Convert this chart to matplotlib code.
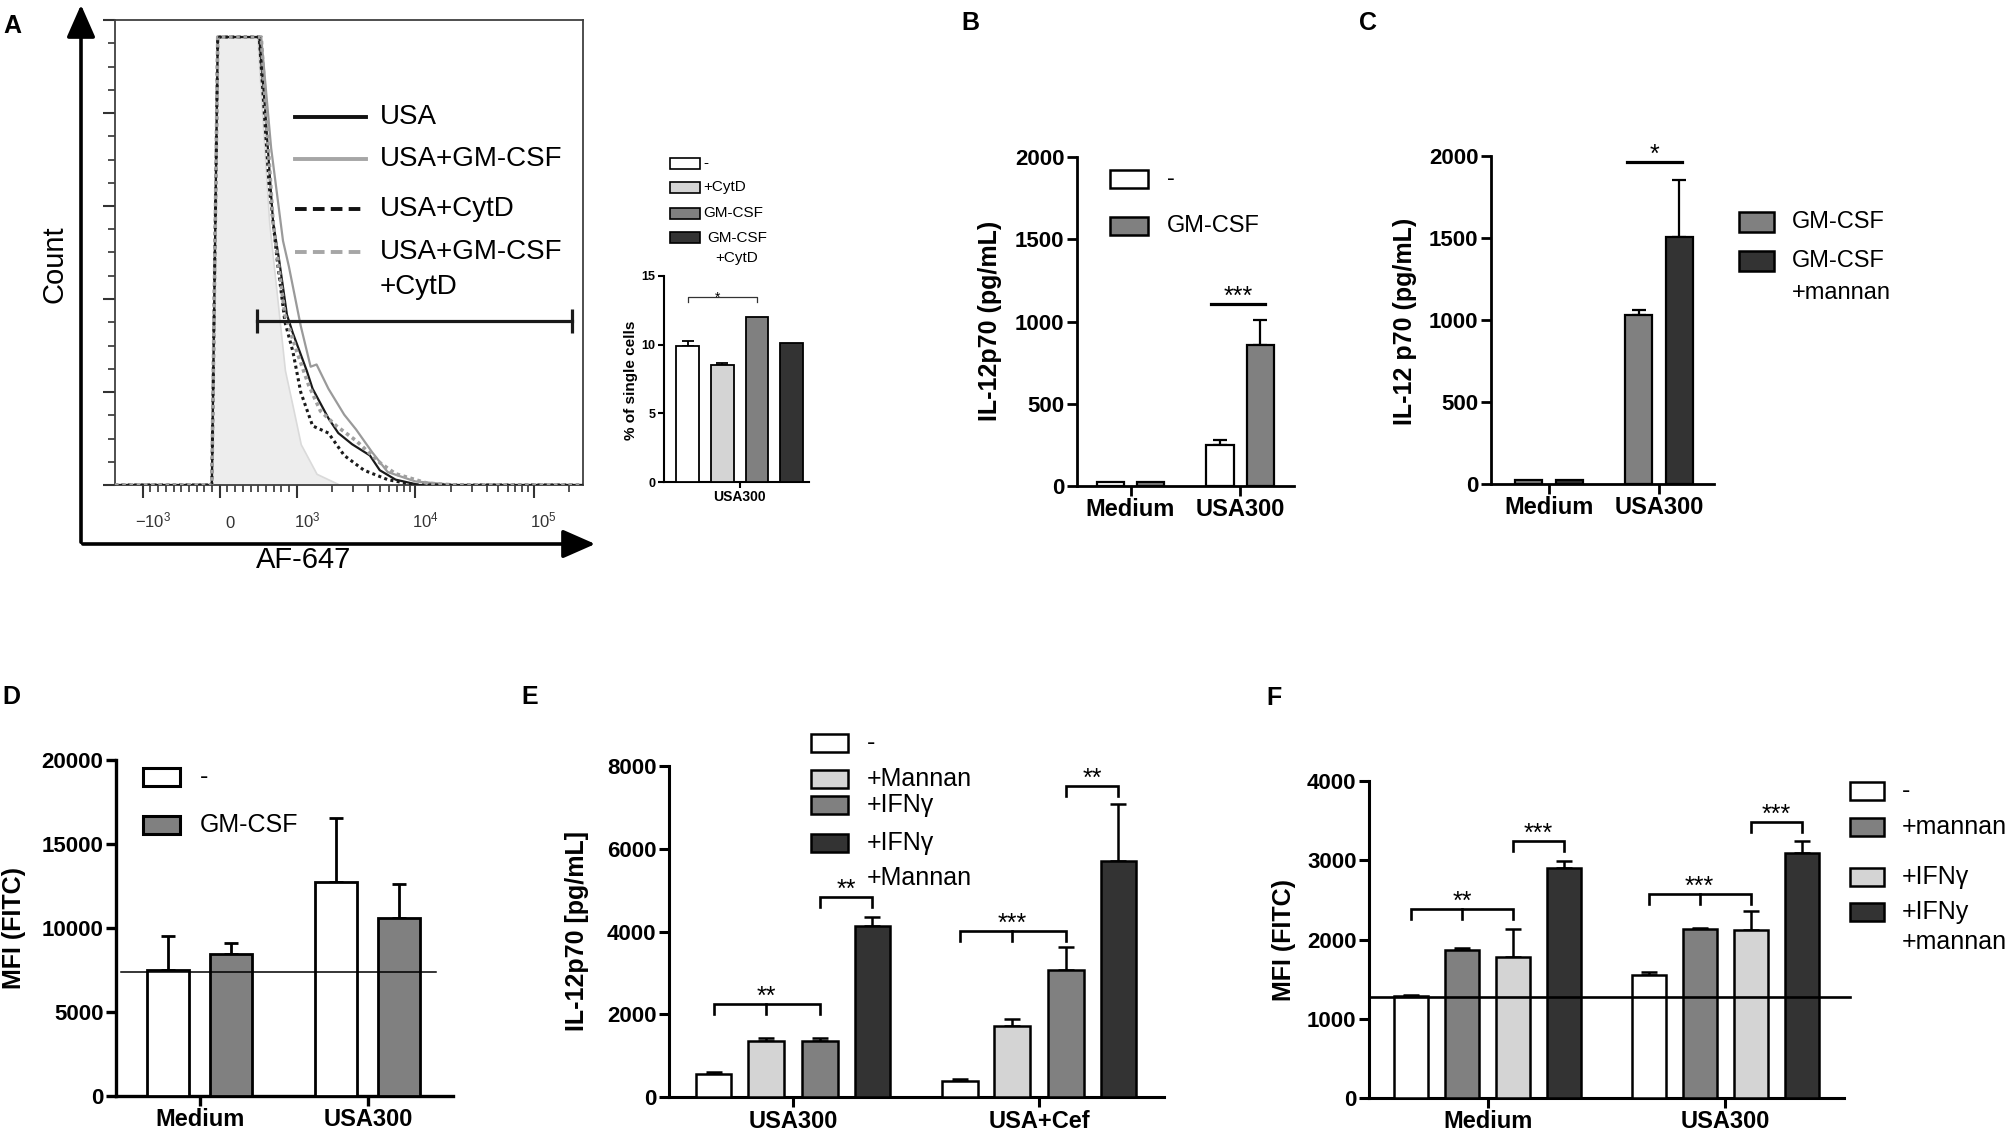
import numpy as np
import matplotlib
matplotlib.use('Agg')
import matplotlib.pyplot as plt
from matplotlib.patches import Rectangle, FancyArrowPatch
from matplotlib.lines import Line2D
from matplotlib.ticker import FixedLocator, MultipleLocator, AutoMinorLocator, NullFormatter
import matplotlib.transforms as mtrans

plt.rcParams['font.family'] = ['Liberation Sans', 'DejaVu Sans']
plt.rcParams['mathtext.default'] = 'regular'

# ======================= DATA =======================
# Panel A - histogram (AF-647 vs normalised count)
hist_ticks = [-1e3, 0, 1e3, 1e4, 1e5]
hist_ticklabels = ['$-10^{3}$', '0', '$10^{3}$', '$10^{4}$', '$10^{5}$']
ctrl_x = [-1714, -103, -26, 487, 641, 744, 846, 949, 1080, 1468, 2326, 260000]
ctrl_y = [0, 0, 100, 100, 58.7, 42.1, 25.6, 17.4, 9.1, 2.5, 0, 0]
usa_x = [-1714, -103, -26, 513, 590, 692, 769, 872, 949, 1210, 1359, 1848, 2239, 2929, 4137, 5012, 6813, 10800, 260000]
usa_y = [0, 0, 100, 100, 83.5, 58.7, 50.4, 38.0, 33.9, 25.6, 21.5, 14.9, 11.6, 9.1, 6.6, 3.3, 1.2, 0, 0]
usa_gm_x = [-1714, -103, -26, 538, 667, 821, 897, 1080, 1308, 1468, 1848, 2512, 3162, 4299, 5843, 10000, 21544, 260000]
usa_gm_y = [0, 0, 100, 100, 75.2, 54.5, 48.8, 35.5, 26.4, 26.9, 21.5, 15.7, 12.4, 7.4, 2.9, 0.8, 0, 0]
usa_cytd_x = [-1714, -103, -26, 513, 641, 744, 846, 949, 1080, 1359, 1848, 2512, 3687, 5843, 10000, 260000]
usa_cytd_y = [0, 0, 100, 100, 66.9, 50.4, 36.4, 29.8, 20.7, 13.2, 11.6, 6.6, 3.3, 1.2, 0, 0]
usa_gm_cytd_x = [-1714, -103, -26, 538, 692, 846, 1000, 1259, 1585, 2154, 3162, 5012, 6813, 12589, 21544, 260000]
usa_gm_cytd_y = [0, 0, 100, 100, 58.7, 38.0, 29.8, 22.3, 16.5, 13.2, 9.9, 5.0, 2.5, 0.4, 0, 0]
gate_x = [487, 210000]
gate_y = 36.5
hist_legend = ['USA', 'USA+GM-CSF', 'USA+CytD', 'USA+GM-CSF\n+CytD']

# Panel A - inset bar chart
inset_labels = ['-', '+CytD', 'GM-CSF', 'GM-CSF\n+CytD']
inset_vals = [9.9, 8.5, 12.0, 10.1]
inset_err = [0.35, 0.2, 0.0, 0.0]
inset_category = 'USA300'

# Panel B
b_categories = ['Medium', 'USA300']
b_series = ['-', 'GM-CSF']
b_vals = [[26, 250], [26, 859]]
b_errs = [[0, 28], [0, 152]]

# Panel C
c_categories = ['Medium', 'USA300']
c_series = ['GM-CSF', 'GM-CSF\n+mannan']
c_vals = [[26, 1030], [26, 1508]]
c_errs = [[0, 31], [0, 344]]

# Panel D
d_categories = ['Medium', 'USA300']
d_series = ['-', 'GM-CSF']
d_vals = [[7500, 12760], [8470, 10580]]
d_errs = [[2020, 3770], [650, 2040]]
d_baseline = 7360

# Panel E
e_categories = ['USA300', 'USA+Cef']
e_series = ['-', '+Mannan', '+IFNγ', '+IFNγ\n+Mannan']
e_vals = [[565, 390], [1347, 1720], [1347, 3070], [4140, 5700]]
e_errs = [[40, 40], [90, 160], [90, 550], [200, 1380]]
e_sig = [(0, 0, 2, 2240, '**', True), (0, 2, 3, 4840, '**', False),
         (1, 0, 2, 4024, '***', True), (1, 2, 3, 7514, '**', False)]

# Panel F
f_categories = ['Medium', 'USA300']
f_series = ['-', '+mannan', '+IFNγ', '+IFNy\n+mannan']
f_vals = [[1290, 1546], [1870, 2130], [1777, 2122], [2899, 3092]]
f_errs = [[8, 38], [29, 13], [353, 239], [93, 156]]
f_baseline = 1269
f_sig = [(0, 0, 2, 2382, '**', True), (0, 2, 3, 3244, '***', False),
         (1, 0, 2, 2571, '***', True), (1, 2, 3, 3487, '***', False)]

# ======================= STYLE =======================
WHITE, LGRAY, MGRAY, DGRAY = 'white', '#d4d4d4', '#808080', '#333333'

W, H = 2008, 1133
fig = plt.figure(figsize=(W / 100, H / 100), dpi=100)


def fx(px):
    return px / W


def fy(py):
    return 1 - py / H


def add_ax(left, top, right, bottom):
    return fig.add_axes([fx(left), fy(bottom), (right - left) / W, (bottom - top) / H])


def ftext(x, y, s, **kw):
    return fig.text(fx(x), fy(y), s, **kw)


def draw_legend(labels, colors, x0, w, h, rows, tx, fs, lw, gap, multi_center=None):
    for lab, c, y in zip(labels, colors, rows):
        fig.add_artist(Rectangle((fx(x0), fy(y + h / 2)), w / W, h / H,
                                 transform=fig.transFigure, facecolor=c,
                                 edgecolor='black', lw=lw))
        lines = lab.split('\n')
        for k, line in enumerate(lines):
            if multi_center is not None and len(lines) > 1:
                ftext(multi_center, y + k * gap, line, va='center', ha='center', fontsize=fs)
            else:
                ftext(tx, y + k * gap, line, va='center', ha='left', fontsize=fs)


def style_bar_axis(ax, ax_lw, tick_fs, cat_fs, ticklen=7):
    for s in ['top', 'right']:
        ax.spines[s].set_visible(False)
    for s in ['left', 'bottom']:
        ax.spines[s].set_linewidth(ax_lw)
    ax.tick_params(direction='out', length=ticklen, width=ax_lw, pad=2)
    for lab in ax.get_yticklabels():
        lab.set_fontweight('bold')
        lab.set_fontsize(tick_fs)
    for lab in ax.get_xticklabels():
        lab.set_fontweight('bold')
        lab.set_fontsize(cat_fs)


def bar_panel(box, vals, errs, colors, offsets, width, xlim, ylim, ystep,
              cats, tick_fs=16, cat_fs=17, edge_lw=2.0, ax_lw=2.2, capsize=5):
    ax = add_ax(*box)
    n = len(cats)
    for v, e, c, off in zip(vals, errs, colors, offsets):
        xs = np.arange(n) + off
        v = np.array(v, float)
        e = np.array(e, float)
        ax.bar(xs, v, width=width, color=c, edgecolor='black', linewidth=edge_lw, zorder=3)
        m = e > 0
        if m.any():
            ax.errorbar(xs[m], v[m], yerr=[np.zeros(m.sum()), e[m]], fmt='none',
                        ecolor='black', elinewidth=edge_lw, capsize=capsize,
                        capthick=edge_lw, zorder=2)
    ax.set_xlim(*xlim)
    ax.set_ylim(*ylim)
    ax.set_yticks(np.arange(ylim[0], ylim[1] + 1, ystep))
    ax.set_xticks(np.arange(n))
    ax.set_xticklabels(cats)
    style_bar_axis(ax, ax_lw, tick_fs, cat_fs)
    return ax


def bracket(ax, x1, x2, y, leg, text, mid=None, lw=1.8, fs=18, dy=0):
    ax.plot([x1, x1, x2, x2], [y - leg, y, y, y - leg], color='black', lw=lw,
            clip_on=False, zorder=4, solid_joinstyle='miter')
    if mid is not None:
        ax.plot([mid, mid], [y, y - leg], color='black', lw=lw, clip_on=False, zorder=4)
    ax.annotate(text, ((x1 + x2) / 2, y), xytext=(0, dy), textcoords='offset points',
                ha='center', va='baseline', fontsize=fs, annotation_clip=False)


# ======================= PANEL A: histogram =======================
axh = add_ax(115, 20, 583, 485)
axh.set_xscale('symlog', linthresh=1000, linscale=0.585)
axh.set_xlim(-1714, 260000)
axh.set_ylim(0, 103.8)
axh.fill_between(ctrl_x, ctrl_y, 0, facecolor='#ededed', edgecolor='#dadada', lw=1.2, zorder=1)
axh.plot(usa_x, usa_y, color='#1a1a1a', lw=1.6, zorder=3)
axh.plot(usa_gm_x, usa_gm_y, color='#9a9a9a', lw=1.6, zorder=2)
axh.plot(usa_cytd_x, usa_cytd_y, color='#1a1a1a', lw=2.2, ls=(0, (1, 1.1)), zorder=4)
axh.plot(usa_gm_cytd_x, usa_gm_cytd_y, color='#a0a0a0', lw=2.6, ls=(0, (1, 1.0)), zorder=5)
axh.plot(gate_x, [gate_y, gate_y], color='#1a1a1a', lw=2.3, marker='|', markersize=17,
         mew=2.3, zorder=6)
for s in axh.spines.values():
    s.set_linewidth(1.3)
    s.set_color('#404040')
axh.xaxis.set_major_locator(FixedLocator(hist_ticks))
minor_t = ([-k * 100 for k in range(1, 10)] + [k * 100 for k in range(1, 10)] +
           [m * 10 ** p for p in (3, 4) for m in range(2, 10)] + [2e5])
axh.xaxis.set_minor_locator(FixedLocator(minor_t))
axh.xaxis.set_major_formatter(NullFormatter())
axh.xaxis.set_minor_formatter(NullFormatter())
axh.yaxis.set_major_locator(MultipleLocator(20.76))
axh.yaxis.set_minor_locator(AutoMinorLocator(4))
axh.yaxis.set_major_formatter(NullFormatter())
axh.tick_params(which='major', direction='out', length=9, width=1.5, color='#333333')
axh.tick_params(which='minor', direction='out', length=5, width=1.2, color='#333333')
lab_tr = mtrans.blended_transform_factory(axh.transData, axh.transAxes) + \
    mtrans.ScaledTranslation(10 / 100, 0, fig.dpi_scale_trans)
for v, lab in zip(hist_ticks, hist_ticklabels):
    axh.text(v, -0.092, lab, transform=lab_tr, ha='center', va='baseline',
             fontsize=12, color='#333333')

# axis arrows
for (x1, y1, x2, y2) in [(81, 545, 81, 2), (80, 544, 598, 544)]:
    fig.add_artist(FancyArrowPatch((fx(x1), fy(y1)), (fx(x2), fy(y2)),
                                   transform=fig.transFigure,
                                   arrowstyle='-|>,head_length=0.5,head_width=0.22',
                                   mutation_scale=40, lw=2.6, color='black'))
ftext(55, 264, 'Count', rotation=90, ha='center', va='center', fontsize=21)
ftext(304, 560, 'AF-647', ha='center', va='center', fontsize=21)

# histogram legend
leg_styles = [dict(color='#111111', ls='-'), dict(color='#a6a6a6', ls='-'),
              dict(color='#111111', ls=(0, (3, 1.6))), dict(color='#a6a6a6', ls=(0, (3, 1.6)))]
leg_rows = [117, 159, 209, 252]
for lab, st, y in zip(hist_legend, leg_styles, leg_rows):
    fig.add_artist(Line2D([fx(295), fx(366)], [fy(y), fy(y)], transform=fig.transFigure,
                          lw=2.8, **st))
    for k, line in enumerate(lab.split('\n')):
        ftext(380, y + k * 35, line, va='center', ha='left', fontsize=20)

# ======================= PANEL A: inset =======================
axi = add_ax(664, 276, 809, 482)
ix = np.arange(len(inset_vals))
axi.bar(ix, inset_vals, width=0.66, color=[WHITE, LGRAY, MGRAY, DGRAY],
        edgecolor='black', linewidth=1.3, zorder=3)
ie = np.array(inset_err)
mm = ie > 0
axi.errorbar(ix[mm], np.array(inset_vals)[mm], yerr=[np.zeros(mm.sum()), ie[mm]],
             fmt='none', ecolor='black', elinewidth=1.3, capsize=4, capthick=1.3, zorder=2)
axi.set_xlim(-0.68, 3.5)
axi.set_ylim(0, 15)
axi.set_yticks([0, 5, 10, 15])
axi.set_xticks([1.5])
axi.set_xticklabels([inset_category])
style_bar_axis(axi, 1.5, 9, 10, ticklen=4)
axi.plot([0, 0, 2, 2], [13.1, 13.47, 13.47, 13.1], color='#333333', lw=0.9, clip_on=False)
axi.annotate('*', (0.85, 13.47), xytext=(0, -3.5), textcoords='offset points',
             ha='center', va='baseline', fontsize=10)
ftext(631, 380, '% of single cells', rotation=90, ha='center', va='center',
      fontsize=11, fontweight='bold')
draw_legend(inset_labels, [WHITE, LGRAY, MGRAY, DGRAY], 670, 30, 11,
            [163, 187, 213, 238], 703, 11, 1.2, 20, multi_center=737)

# ======================= PANEL B =======================
axb = bar_panel((1077, 157, 1294, 486), b_vals, b_errs, [WHITE, MGRAY], [-0.183, 0.183],
                0.247, (-0.489, 1.493), (0, 2000), 500, b_categories,
                tick_fs=16, cat_fs=17, edge_lw=1.6, ax_lw=2.0, capsize=5)
axb.plot([0.735, 1.228], [1109, 1109], color='black', lw=2.3, clip_on=False)
axb.annotate('***', (0.98, 1109), xytext=(0, 0), textcoords='offset points',
             ha='center', va='baseline', fontsize=18, annotation_clip=False)
ftext(990, 321, 'IL-12p70 (pg/mL)', rotation=90, ha='center', va='center',
      fontsize=18, fontweight='bold')
draw_legend(b_series, [WHITE, MGRAY], 1110, 38, 18, [179, 226], 1167, 17, 1.8, 32)

# ======================= PANEL C =======================
axc = bar_panel((1491, 156, 1714, 484), c_vals, c_errs, [MGRAY, DGRAY], [-0.186, 0.186],
                0.25, (-0.527, 1.5), (0, 2000), 500, c_categories,
                tick_fs=16, cat_fs=17, edge_lw=1.6, ax_lw=2.0, capsize=5)
axc.plot([0.709, 1.209], [1965, 1965], color='black', lw=2.3, clip_on=False)
axc.annotate('*', (0.96, 1965), xytext=(0, 0), textcoords='offset points',
             ha='center', va='baseline', fontsize=18, annotation_clip=False)
ftext(1405, 321, 'IL-12 p70 (pg/mL)', rotation=90, ha='center', va='center',
      fontsize=18, fontweight='bold')
draw_legend(c_series, [MGRAY, DGRAY], 1739, 35, 19, [222, 261], 1792, 17, 1.8, 32)

# ======================= PANEL D =======================
axd = bar_panel((116, 760, 453, 1096), d_vals, d_errs, [WHITE, MGRAY], [-0.1875, 0.1875],
                0.25, (-0.5, 1.506), (0, 20000), 5000, d_categories,
                tick_fs=16, cat_fs=17, edge_lw=2.0, ax_lw=2.4, capsize=5)
axd.plot([-0.47, 1.405], [d_baseline, d_baseline], color='black', lw=1.1, zorder=5)
ftext(14, 928, 'MFI (FITC)', rotation=90, ha='center', va='center',
      fontsize=18, fontweight='bold')
draw_legend(d_series, [WHITE, MGRAY], 143, 37, 18, [777, 825], 200, 18, 2.2, 32)

# ======================= PANEL E =======================
e_off = [-0.323, -0.108, 0.108, 0.323]
axe = bar_panel((669, 766, 1164, 1097), e_vals, e_errs, [WHITE, LGRAY, MGRAY, DGRAY],
                e_off, 0.146, (-0.504, 1.508), (0, 8000), 2000, e_categories,
                tick_fs=16, cat_fs=17, edge_lw=1.8, ax_lw=2.2, capsize=6)
for g, i1, i2, y, txt, has_mid in e_sig:
    bracket(axe, g + e_off[i1], g + e_off[i2], y, 245, txt,
            mid=(g + e_off[1]) if has_mid else None, lw=1.9, fs=18)
ftext(577, 931, 'IL-12p70 [pg/mL]', rotation=90, ha='center', va='center',
      fontsize=18, fontweight='bold')
draw_legend(e_series, [WHITE, LGRAY, MGRAY, DGRAY], 811, 37, 18,
            [743, 779, 805, 843], 867, 18, 1.8, 35)

# ======================= PANEL F =======================
f_off = [-0.322, -0.107, 0.107, 0.322]
axf = bar_panel((1369, 781, 1844, 1098), f_vals, f_errs, [WHITE, MGRAY, LGRAY, DGRAY],
                f_off, 0.143, (-0.5, 1.5), (0, 4000), 1000, f_categories,
                tick_fs=16, cat_fs=17, edge_lw=1.8, ax_lw=2.2, capsize=6)
axf.plot([-0.5, 1.525], [f_baseline, f_baseline], color='black', lw=1.9, zorder=5,
         clip_on=False)
for g, i1, i2, y, txt, has_mid in f_sig:
    bracket(axf, g + f_off[i1], g + f_off[i2], y, 126, txt,
            mid=(g + f_off[1]) if has_mid else None, lw=1.9, fs=18)
ftext(1284, 940, 'MFI (FITC)', rotation=90, ha='center', va='center',
      fontsize=18, fontweight='bold')
draw_legend(f_series, [WHITE, MGRAY, LGRAY, DGRAY], 1850, 34, 18,
            [791, 827, 877, 912], 1902, 18, 1.8, 30)

# ======================= panel letters =======================
for L, x, y in [('A', 12, 26), ('B', 970, 23), ('C', 1368, 23),
                ('D', 11, 697), ('E', 530, 697), ('F', 1274, 698)]:
    ftext(x, y, L, ha='center', va='center', fontsize=18, fontweight='bold')

fig.savefig('out.png', dpi=100, facecolor='white')
